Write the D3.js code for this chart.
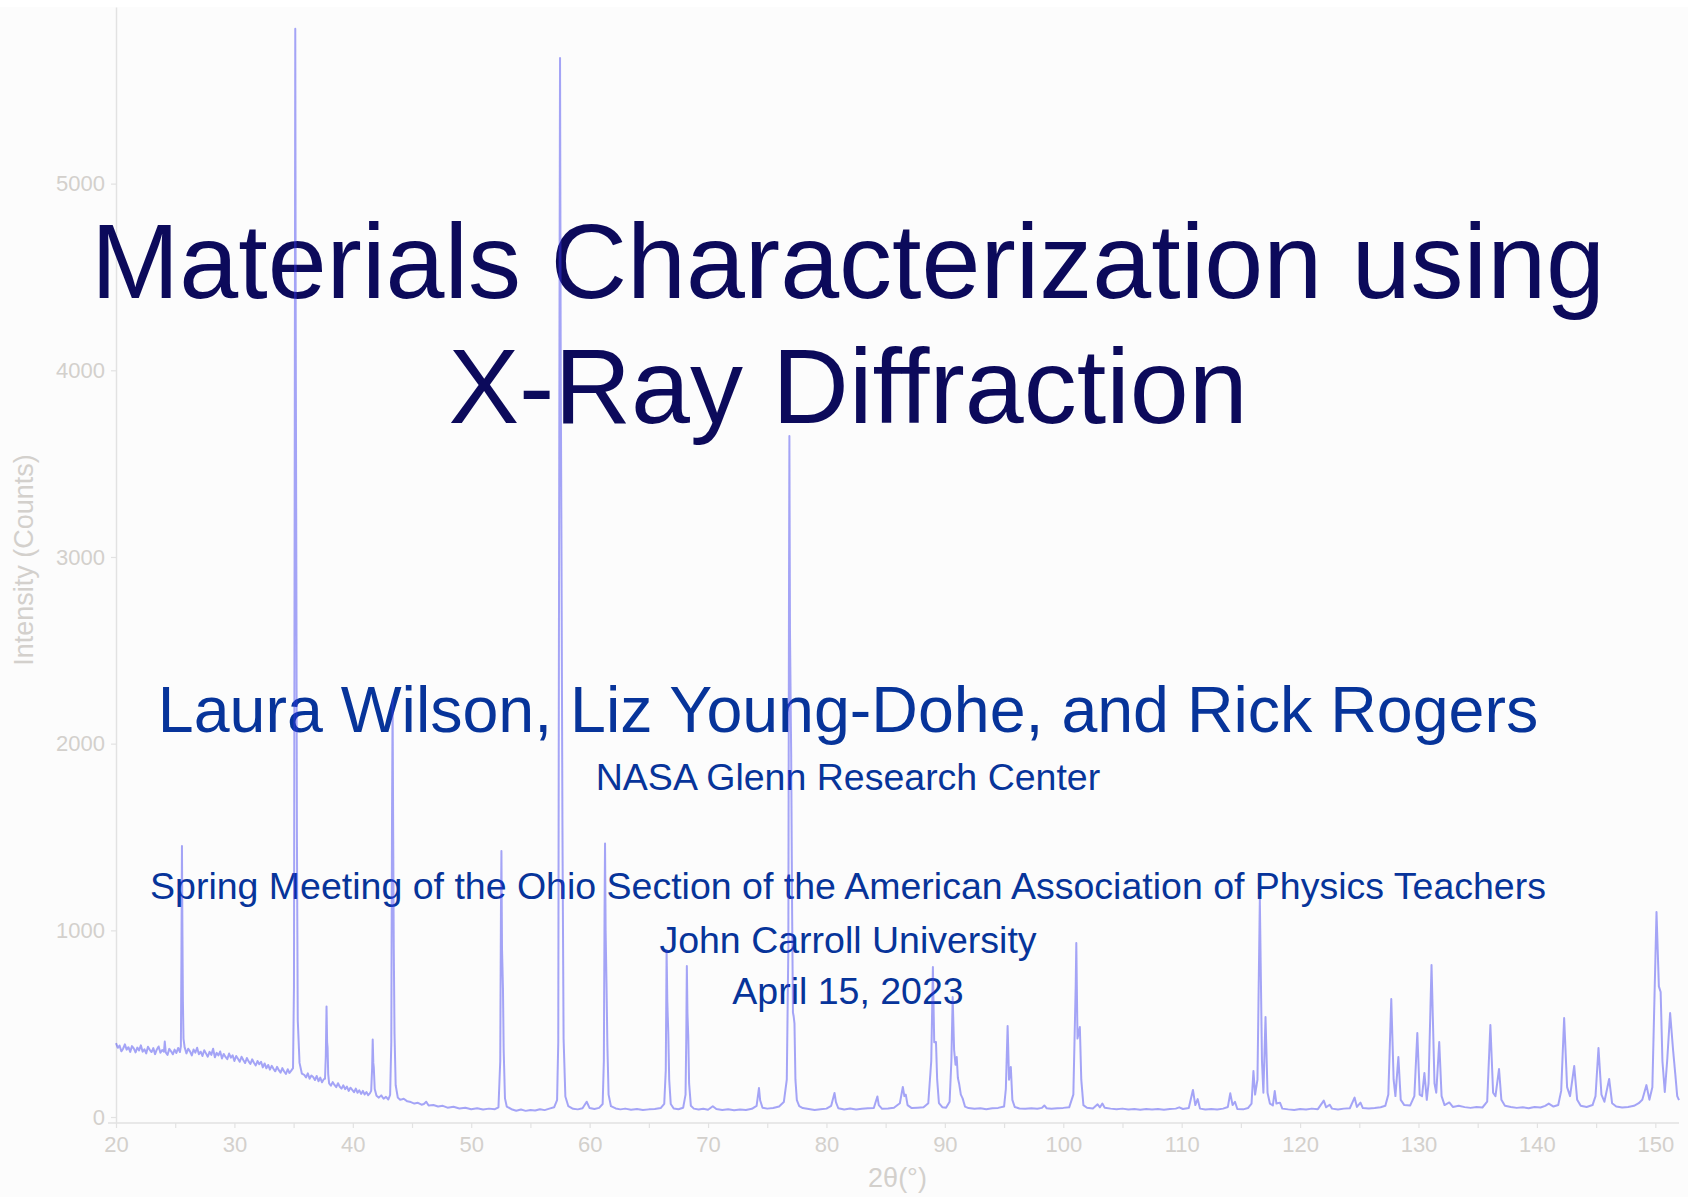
<!DOCTYPE html>
<html>
<head>
<meta charset="utf-8">
<script src="https://cdn.jsdelivr.net/npm/d3@7"></script>
<style>
  body { margin: 0; background: #ffffff; }
  svg { display: block; font-family: "Liberation Sans", Arial, sans-serif; }
</style>
</head>
<body>
<div id="plot"></div>
<script>
// XRD scan: [2theta (deg), intensity (counts)]
const scanLow = [
  [20.0, 396], [20.15, 371], [20.3, 383], [20.45, 352], [20.6, 366], [20.75, 389], [20.9, 361],
  [21.05, 374], [21.2, 349], [21.35, 380], [21.5, 368], [21.65, 346], [21.8, 372], [21.95, 357],
  [22.1, 384], [22.25, 350], [22.4, 363], [22.55, 341], [22.7, 376], [22.85, 360], [23.0, 348],
  [23.15, 369], [23.3, 337], [23.45, 362], [23.6, 378], [23.75, 344], [23.9, 359], [24.05, 350],
  [24.12, 404], [24.2, 346], [24.35, 333], [24.5, 365], [24.65, 352], [24.8, 336], [24.95, 361],
  [25.1, 343], [25.25, 370], [25.4, 348], [25.48, 380], [25.53, 900], [25.57, 1452],
  [25.61, 980], [25.65, 620], [25.7, 420], [25.8, 372], [25.95, 341], [26.1, 366], [26.25, 352],
  [26.4, 330], [26.55, 362], [26.7, 345], [26.85, 371], [27.0, 336], [27.15, 350], [27.3, 327],
  [27.45, 358], [27.6, 341], [27.75, 323], [27.9, 349], [28.05, 333], [28.2, 366], [28.35, 320],
  [28.5, 344], [28.65, 330], [28.8, 351], [28.95, 314], [29.1, 338], [29.25, 322], [29.4, 310],
  [29.55, 340], [29.7, 318], [29.85, 331], [30.0, 300], [30.15, 327], [30.3, 312], [30.45, 296],
  [30.6, 323], [30.75, 305], [30.9, 289], [31.05, 316], [31.2, 298], [31.35, 284], [31.5, 309],
  [31.65, 291], [31.8, 276], [31.95, 300], [32.1, 283], [32.25, 296], [32.4, 266], [32.55, 287],
  [32.7, 261], [32.85, 279], [33.0, 254], [33.15, 274], [33.3, 258], [33.45, 245], [33.6, 269],
  [33.75, 251], [33.9, 238], [34.05, 262], [34.2, 244], [34.35, 231], [34.5, 256], [34.65, 236],
  [34.8, 249], [34.95, 262], [35.03, 700], [35.1, 3800], [35.14, 5829], [35.18, 4200],
  [35.23, 2950], [35.28, 1500], [35.35, 520], [35.5, 290], [35.7, 232], [35.9, 226],
  [36.05, 212], [36.2, 234], [36.35, 205], [36.5, 222], [36.65, 214], [36.8, 198], [36.95, 220],
  [37.1, 192], [37.25, 211], [37.4, 186], [37.55, 203], [37.65, 205], [37.72, 330],
  [37.78, 592], [37.83, 400], [37.87, 370], [37.92, 230], [38.0, 180], [38.15, 168],
  [38.3, 187], [38.45, 172], [38.6, 160], [38.75, 181], [38.9, 162], [39.05, 152], [39.2, 170],
  [39.35, 149], [39.5, 163], [39.65, 140], [39.8, 157], [39.95, 145], [40.1, 133], [40.25, 152],
  [40.4, 130], [40.55, 143], [40.7, 124], [40.85, 140], [41.0, 121], [41.15, 134], [41.3, 117],
  [41.45, 128], [41.55, 140], [41.63, 260], [41.68, 415], [41.73, 290], [41.77, 268],
  [41.85, 150], [42.0, 114], [42.2, 104], [42.4, 116], [42.6, 98], [42.8, 108], [43.0, 94],
  [43.15, 118], [43.25, 400], [43.31, 1600], [43.36, 2240], [43.41, 1500], [43.46, 900],
  [43.52, 450], [43.62, 170], [43.8, 104], [44.0, 92], [44.3, 98], [44.6, 84], [44.9, 80],
  [45.2, 72], [45.5, 76]
];

const scanMid = [
  [45.8, 66], [46.0, 70], [46.2, 82], [46.4, 62], [46.8, 64], [47.2, 56], [47.6, 60],
  [48.0, 50], [48.5, 55], [49.0, 46], [49.5, 50], [50.0, 42], [50.5, 47], [51.0, 40],
  [51.5, 45], [52.0, 42], [52.3, 52], [52.45, 300], [52.51, 1100], [52.55, 1425],
  [52.6, 900], [52.68, 690], [52.74, 360], [52.85, 100], [53.0, 56], [53.4, 42], [53.8, 34],
  [54.2, 40], [54.6, 33], [55.0, 38], [55.4, 35], [55.8, 42], [56.2, 37], [56.6, 45],
  [57.0, 52], [57.25, 90], [57.35, 400], [57.44, 3800], [57.5, 5673], [57.56, 4000],
  [57.63, 2910], [57.7, 1600], [57.8, 420], [57.95, 110], [58.2, 58], [58.6, 44], [59.0, 41],
  [59.4, 47], [59.75, 82], [60.0, 48], [60.4, 43], [60.8, 49], [61.1, 70], [61.2, 300],
  [61.26, 1100], [61.3, 1465], [61.35, 1000], [61.43, 690], [61.5, 380], [61.6, 120],
  [61.8, 58], [62.2, 46], [62.6, 41], [63.0, 45], [63.5, 39], [64.0, 43], [64.5, 38],
  [65.0, 41], [65.5, 43], [66.0, 48], [66.3, 70], [66.43, 250], [66.5, 895], [66.56, 620],
  [66.64, 455], [66.72, 200], [66.85, 70], [67.1, 46], [67.5, 42], [67.9, 50], [68.1, 120],
  [68.16, 420], [68.21, 809], [68.26, 560], [68.33, 430], [68.4, 180], [68.55, 60],
  [68.8, 45], [69.2, 40], [69.6, 44], [70.0, 39], [70.4, 58], [70.7, 43], [71.2, 38],
  [71.7, 42], [72.2, 36], [72.7, 40], [73.2, 38], [73.7, 44], [74.1, 60], [74.3, 155],
  [74.4, 90], [74.6, 50], [75.0, 45], [75.5, 48], [76.0, 56], [76.4, 80], [76.65, 200],
  [76.78, 900], [76.84, 2900], [76.87, 3648], [76.92, 2600], [77.02, 1950], [77.1, 1100],
  [77.17, 560], [77.23, 540], [77.3, 500], [77.38, 200], [77.5, 90], [77.7, 58],
  [78.0, 48], [78.5, 43], [79.0, 38], [79.5, 42], [80.0, 45], [80.4, 60], [80.68, 129],
  [80.8, 80], [81.0, 47], [81.5, 40]
];

const scanHigh = [
  [82.0, 46], [82.5, 40], [83.0, 44], [83.5, 47], [84.0, 48], [84.3, 110], [84.42, 64],
  [84.7, 44], [85.2, 46], [85.7, 50], [86.2, 74], [86.45, 161], [86.58, 112], [86.7, 120],
  [86.85, 64], [87.2, 48], [87.7, 50], [88.2, 52], [88.6, 74], [88.85, 300], [88.99, 804],
  [89.1, 400], [89.25, 402], [89.35, 200], [89.5, 74], [89.8, 52], [90.1, 50], [90.4, 82],
  [90.55, 300], [90.66, 643], [90.78, 360], [90.9, 280], [91.0, 321], [91.1, 209],
  [91.2, 180], [91.35, 120], [91.5, 100], [91.7, 56], [92.0, 48], [92.5, 44], [93.0, 47],
  [93.5, 42], [94.0, 47], [94.5, 49], [95.0, 56], [95.15, 150], [95.3, 488], [95.42, 200],
  [95.57, 268], [95.7, 92], [95.9, 54], [96.3, 46], [96.8, 44], [97.3, 47], [97.8, 44],
  [98.2, 49], [98.4, 62], [98.6, 47], [99.0, 44], [99.5, 47], [100.0, 49], [100.5, 52],
  [100.85, 120], [101.05, 700], [101.1, 932], [101.2, 420], [101.4, 482], [101.52, 200],
  [101.7, 64], [102.0, 50], [102.5, 46], [102.9, 68], [103.1, 52], [103.3, 72], [103.5, 50],
  [104.0, 45], [104.5, 42], [105.0, 45], [105.5, 40], [106.0, 43], [106.5, 39], [107.0, 43],
  [107.5, 40], [108.0, 43], [108.5, 39], [109.0, 43], [109.5, 45], [109.8, 52], [110.1, 43],
  [110.6, 48], [110.95, 145], [111.15, 64], [111.35, 96], [111.55, 45], [112.0, 40],
  [112.5, 43], [113.0, 40], [113.5, 45], [113.9, 54], [114.1, 127], [114.3, 64],
  [114.5, 82], [114.7, 43], [115.2, 41]
];

const scanBack = [
  [115.6, 48], [115.9, 72], [116.06, 246], [116.2, 120], [116.4, 200], [116.6, 1165],
  [116.78, 300], [116.9, 130], [117.08, 536], [117.25, 130], [117.45, 72], [117.7, 62],
  [117.86, 139], [118.0, 72], [118.3, 77], [118.5, 45], [119.0, 41], [119.5, 38],
  [120.0, 43], [120.5, 40], [121.0, 45], [121.5, 42], [122.0, 88], [122.2, 52], [122.5, 66],
  [122.7, 45], [123.2, 40], [123.7, 45], [124.2, 47], [124.6, 104], [124.8, 54], [125.1, 77],
  [125.3, 48], [125.8, 46], [126.3, 48], [126.8, 52], [127.2, 60], [127.45, 120],
  [127.7, 632], [127.9, 200], [128.05, 112], [128.3, 321], [128.5, 92], [128.8, 64],
  [129.3, 62], [129.65, 112], [129.9, 450], [130.1, 120], [130.3, 112], [130.5, 236],
  [130.7, 92], [130.85, 180], [131.1, 814], [131.35, 180], [131.5, 130], [131.75, 402],
  [131.95, 112], [132.2, 64], [132.6, 78], [132.9, 54], [133.4, 60], [133.9, 53],
  [134.4, 49], [134.9, 54], [135.4, 51], [135.8, 82], [136.07, 493], [136.3, 130],
  [136.5, 112], [136.8, 257], [137.0, 92], [137.3, 60], [137.8, 54], [138.3, 49], [138.8, 52],
  [139.3, 47], [139.8, 54], [140.3, 51], [140.7, 60], [141.0, 72], [141.4, 56], [141.8, 64],
  [142.05, 140], [142.3, 530], [142.55, 160], [142.8, 112], [143.15, 273], [143.4, 92],
  [143.7, 60], [144.2, 54], [144.7, 64], [144.95, 112], [145.2, 370], [145.45, 120],
  [145.7, 82], [146.1, 204], [146.35, 74], [146.7, 56], [147.2, 51], [147.7, 54],
  [148.2, 60], [148.6, 74], [148.9, 92], [149.25, 171], [149.5, 93], [149.75, 160],
  [150.1, 1098], [150.3, 700], [150.45, 670], [150.6, 300], [150.8, 134], [151.0, 300],
  [151.25, 557], [151.5, 359], [151.7, 220], [151.85, 112], [152.0, 91]
];

const xTicks = [20, 30, 40, 50, 60, 70, 80, 90, 100, 110, 120, 130, 140, 150];
const xMinorTicks = [25, 35, 45, 55, 65, 75, 85, 95, 105, 115, 125, 135, 145];
const yTicks = [0, 1000, 2000, 3000, 4000, 5000];

const titleLines = ["Materials Characterization using", "X-Ray Diffraction"];
const authorLine = "Laura Wilson, Liz Young-Dohe, and Rick Rogers";
const affiliationLine = "NASA Glenn Research Center";
const meetingLines = [
  "Spring Meeting of the Ohio Section of the American Association of Physics Teachers",
  "John Carroll University",
  "April 15, 2023"
];

const svgWidth = 1688;
const svgHeight = 1197;
const margin = { top: 7, right: 9, bottom: 74, left: 116 };

const scan = scanLow.concat(scanMid, scanHigh, scanBack);

const x = d3.scaleLinear()
  .domain([20, 152])
  .range([margin.left, svgWidth - margin.right]);

const y = d3.scaleLinear()
  .domain([-32, 5946])
  .range([svgHeight - margin.bottom, margin.top]);

const svg = d3.select("div#plot")
  .append("svg")
  .attr("width", svgWidth)
  .attr("height", svgHeight);

// faint grey sheet behind everything
svg.append("rect")
  .attr("x", 0)
  .attr("y", margin.top)
  .attr("width", svgWidth)
  .attr("height", svgHeight - margin.top)
  .attr("fill", "#fcfcfc");

const axisGrey = "#e2e2e2";
const labelGrey = "#d3d0cc";

// x axis, majors labelled, minors bare
const xAxis = svg.append("g")
  .attr("transform", "translate(0," + y.range()[0] + ")")
  .call(d3.axisBottom(x)
    .tickValues(xTicks.concat(xMinorTicks))
    .tickSize(5)
    .tickSizeOuter(0)
    .tickPadding(8)
    .tickFormat(d => (xTicks.includes(d) ? d : "")));

xAxis.select(".domain")
  .attr("d", "M" + (x.range()[0] - 8) + ",0H" + x.range()[1])
  .attr("stroke", axisGrey)
  .attr("stroke-width", 1.5);

const yAxis = svg.append("g")
  .attr("transform", "translate(" + x.range()[0] + ",0)")
  .call(d3.axisLeft(y)
    .tickValues(yTicks)
    .tickSize(5)
    .tickSizeOuter(0)
    .tickPadding(6)
    .tickFormat(d3.format("d")));

yAxis.select(".domain")
  .attr("stroke", axisGrey)
  .attr("stroke-width", 1.5);

[xAxis, yAxis].forEach(g => {
  g.selectAll(".tick line").attr("stroke", axisGrey).attr("stroke-width", 1.2);
  g.selectAll(".tick text")
    .attr("fill", labelGrey)
    .style("font-size", "22px")
    .style("font-family", "'Liberation Sans', Arial, sans-serif");
});

// axis titles
svg.append("text")
  .attr("transform", "translate(33,560) rotate(-90)")
  .attr("text-anchor", "middle")
  .attr("fill", labelGrey)
  .style("font-size", "27px")
  .text("Intensity (Counts)");

svg.append("text")
  .attr("x", (x.range()[0] + x.range()[1]) / 2)
  .attr("y", 1187)
  .attr("text-anchor", "middle")
  .attr("fill", labelGrey)
  .style("font-size", "27px")
  .text("2θ(°)");

// slide text
const cx = 848;

svg.selectAll(".title-line")
  .data(titleLines)
  .enter()
  .append("text")
  .attr("class", "title-line")
  .attr("x", cx)
  .attr("y", (d, i) => 298 + i * 125)
  .attr("text-anchor", "middle")
  .attr("fill", "#0c0a5b")
  .style("font-size", "106px")
  .text(d => d);

svg.append("text")
  .attr("x", cx)
  .attr("y", 732)
  .attr("text-anchor", "middle")
  .attr("fill", "#07349a")
  .style("font-size", "64.5px")
  .text(authorLine);

svg.append("text")
  .attr("x", cx)
  .attr("y", 790)
  .attr("text-anchor", "middle")
  .attr("fill", "#07349a")
  .style("font-size", "37.5px")
  .text(affiliationLine);

svg.selectAll(".meeting-line")
  .data(meetingLines)
  .enter()
  .append("text")
  .attr("class", "meeting-line")
  .attr("x", cx)
  .attr("y", (d, i) => [899, 953, 1004][i])
  .attr("text-anchor", "middle")
  .attr("fill", "#07349a")
  .style("font-size", "37.5px")
  .text(d => d);

// the diffraction trace sits on top, see-through
const line = d3.line()
  .x(d => x(d[0]))
  .y(d => y(d[1]));

svg.append("path")
  .datum(scan)
  .attr("d", line)
  .attr("fill", "none")
  .attr("stroke", "#3a3af0")
  .attr("stroke-opacity", 0.45)
  .attr("stroke-width", 2)
  .attr("stroke-linejoin", "round");
</script>
</body>
</html>
